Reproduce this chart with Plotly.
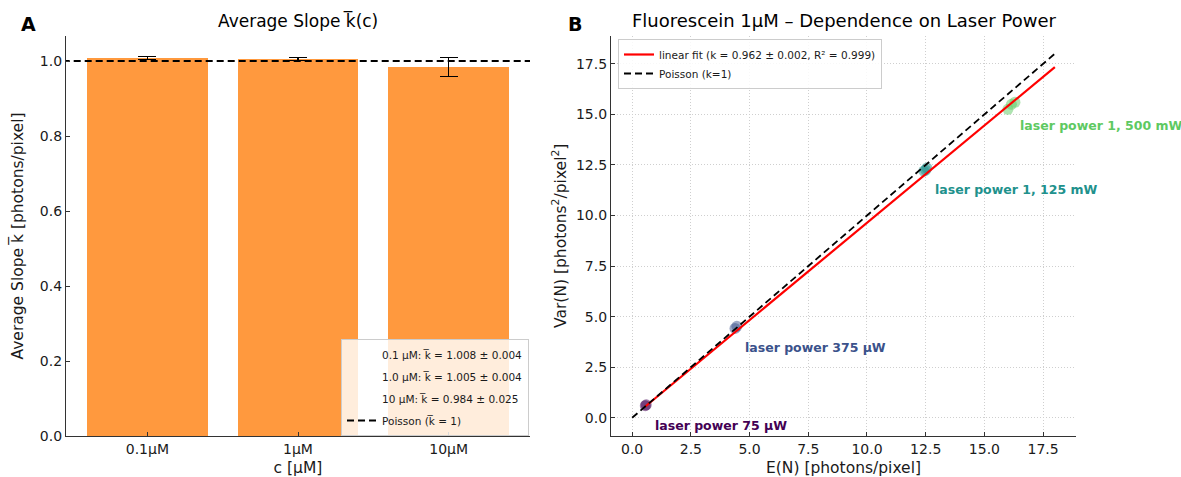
import plotly.graph_objects as go

W, H = 1181, 477

# ---------------- Panel A data ----------------
conc_ticks = ["0.1µM", "1µM", "10µM"]
conc_legend = ["0.1 µM", "1.0 µM", "10 µM"]
k_mean = [1.008, 1.005, 0.984]
k_err = [0.004, 0.004, 0.025]
poisson_k = 1.0

# ---------------- Panel B data ----------------
power_labels = ["laser power 75 µW", "laser power 375 µW",
                "laser power 1, 125 mW", "laser power 1, 500 mW"]
power_colors = ["#440154", "#3b528b", "#21918c", "#5ec962"]
E_N = [[0.56, 0.60], [4.38, 4.46], [12.42, 12.55, 12.5], [16.0, 16.15, 16.3]]
Var_N = [[0.60, 0.64], [4.42, 4.52], [12.2, 12.35, 12.25], [15.25, 15.5, 15.6]]
fit_slope, fit_slope_err, fit_intercept, fit_r2 = 0.962, 0.002, 0.02, 0.999
line_x_max = 18.0
label_offset = (0.3, -1.0)

FONT = "DejaVu Sans"
TXT = "#1a1a1a"

fig = go.Figure()

# ---- Panel A ----
xpos = list(range(len(k_mean)))
fig.add_trace(go.Bar(
    x=xpos, y=k_mean, width=0.8, marker=dict(color="#ff993e", line=dict(width=0)),
    error_y=dict(type="data", array=k_err, color="black", thickness=1.6, width=9),
    showlegend=False, xaxis="x", yaxis="y"))
for i, (lab, m, e) in enumerate(zip(conc_legend, k_mean, k_err)):
    fig.add_trace(go.Scatter(
        x=[None], y=[None], mode="lines", line=dict(color="rgba(0,0,0,0)"),
        name=f"{lab}: k̅ = {m:.3f} ± {e:.3f}", legend="legend", legendgroup=f"a{i}",
        xaxis="x", yaxis="y"))
fig.add_trace(go.Scatter(
    x=[-1, len(k_mean)], y=[poisson_k, poisson_k], mode="lines",
    line=dict(color="black", width=1.8, dash="7px,4px"),
    name="Poisson (k̅ = 1)", legend="legend", legendgroup="a_p", xaxis="x", yaxis="y"))

# ---- Panel B ----
for xs, ys, c in zip(E_N, Var_N, power_colors):
    fig.add_trace(go.Scatter(
        x=xs, y=ys, mode="markers",
        marker=dict(color=c, size=11, opacity=0.5, line=dict(width=0)),
        showlegend=False, xaxis="x2", yaxis="y2"))

all_x = [v for g in E_N for v in g]
fx = [min(all_x), line_x_max]
fig.add_trace(go.Scatter(
    x=fx, y=[fit_slope * v + fit_intercept for v in fx], mode="lines",
    line=dict(color="#ff0000", width=2.2),
    name=f"linear fit (k = {fit_slope:.3f} ± {fit_slope_err:.3f}, R² = {fit_r2:.3f})",
    legend="legend2", xaxis="x2", yaxis="y2"))
fig.add_trace(go.Scatter(
    x=[0, line_x_max], y=[0, line_x_max], mode="lines",
    line=dict(color="black", width=1.8, dash="7px,4px"),
    name="Poisson (k=1)", legend="legend2", xaxis="x2", yaxis="y2"))

for lab, xs, ys, c in zip(power_labels, E_N, Var_N, power_colors):
    mx = sum(xs) / len(xs)
    my = sum(ys) / len(ys)
    fig.add_annotation(x=mx + label_offset[0], y=my + label_offset[1], xref="x2", yref="y2",
                       text=f"<b>{lab}</b>", showarrow=False, xanchor="left", yanchor="middle",
                       font=dict(family=FONT, size=12.5, color=c))

# ---- Titles / panel letters ----
def ann(text, x, y, size, bold=False, xanchor="center"):
    fig.add_annotation(x=x / W, y=1 - y / H, xref="paper", yref="paper",
                       text=f"<b>{text}</b>" if bold else text, showarrow=False,
                       xanchor=xanchor, yanchor="middle",
                       font=dict(family=FONT, size=size, color="black"))

ann("Average Slope k̅(c)", 298, 21, 17)
ann("Fluorescein 1µM – Dependence on Laser Power", 844, 21, 18)
ann("A", 28, 24, 19, bold=True)
ann("B", 575, 24, 19, bold=True)

axis_common = dict(showline=True, linecolor="#333333", linewidth=1.2, ticks="inside",
                   ticklen=4, tickwidth=1, tickcolor="#333333", mirror=False,
                   tickfont=dict(family=FONT, size=14, color=TXT), zeroline=False,
                   automargin=False)
grid = dict(showgrid=True, gridcolor="#cfcfcf", griddash="1px,2px", gridwidth=1)
ticks_b = [0, 2.5, 5, 7.5, 10, 12.5, 15, 17.5]
ticks_b_txt = [f"{v:.1f}" for v in ticks_b]

fig.update_layout(
    width=W, height=H, margin=dict(l=0, r=0, t=0, b=0),
    plot_bgcolor="white", paper_bgcolor="white",
    font=dict(family=FONT, color=TXT),
    bargap=0,
    xaxis=dict(domain=[66 / W, 530 / W], range=[-0.54, 2.54], tickvals=xpos, ticktext=conc_ticks,
               showgrid=False, anchor="y",
               title=dict(text="c [µM]", font=dict(family=FONT, size=15.5, color=TXT), standoff=25),
               **axis_common),
    yaxis=dict(domain=[1 - 436 / H, 1 - 36 / H], range=[0, 1.0667], tickvals=[0, 0.2, 0.4, 0.6, 0.8, 1.0],
               ticktext=["0.0", "0.2", "0.4", "0.6", "0.8", "1.0"], showgrid=False, anchor="x",
               title=dict(text="Average Slope k̅ [photons/pixel]",
                          font=dict(family=FONT, size=15.5, color=TXT), standoff=12),
               **axis_common),
    xaxis2=dict(domain=[611 / W, 1076 / W], range=[-0.9, 18.9], anchor="y2",
                tickvals=ticks_b, ticktext=ticks_b_txt, **grid,
                title=dict(text="E(N) [photons/pixel]", font=dict(family=FONT, size=15.5, color=TXT),
                           standoff=25),
                **axis_common),
    yaxis2=dict(domain=[1 - 436 / H, 1 - 35.5 / H], range=[-0.9, 18.9], anchor="x2",
                tickvals=ticks_b, ticktext=ticks_b_txt, **grid,
                title=dict(text="Var(N) [photons<sup>2</sup>/pixel<sup>2</sup>]",
                           font=dict(family=FONT, size=15.5, color=TXT), standoff=5),
                **axis_common),
    legend=dict(x=341 / W, y=1 - 339 / H, xanchor="left", yanchor="top",
                bgcolor="rgba(255,255,255,0.82)", bordercolor="#cccccc", borderwidth=1,
                font=dict(family=FONT, size=10.5, color=TXT), itemwidth=30, tracegroupgap=3),
    legend2=dict(x=618 / W, y=1 - 39 / H, xanchor="left", yanchor="top",
                 bgcolor="rgba(255,255,255,0.85)", bordercolor="#cccccc", borderwidth=1,
                 font=dict(family=FONT, size=10.5, color=TXT), itemwidth=30, tracegroupgap=0),
)

fig.write_html("out.html", config={"displayModeBar": False},
               post_script="document.body.style.margin='0px';document.body.style.overflow='hidden';")
